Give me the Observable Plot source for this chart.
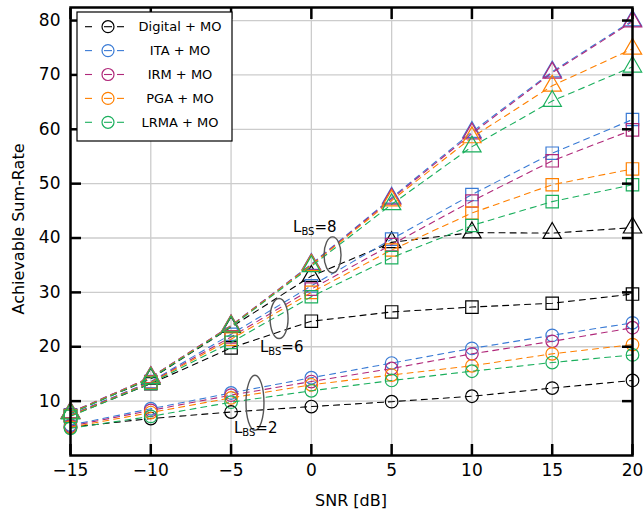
<!DOCTYPE html>
<html><head><meta charset="utf-8">
<script src="https://cdn.jsdelivr.net/npm/d3@7"></script>
<script src="https://cdn.jsdelivr.net/npm/@observablehq/plot@0.6"></script>
<style>body{margin:0;background:#fff;} #chart{width:644px;height:519px;}</style>
</head><body><div id="chart"></div>
<script>
// ---- data ----
const snr = [-15, -10, -5, 0, 5, 10, 15, 20];
const xTicks = [-15, -10, -5, 0, 5, 10, 15, 20];
const yTicks = [10, 20, 30, 40, 50, 60, 70, 80];
const seriesNames = ["Digital + MO", "ITA + MO", "IRM + MO", "PGA + MO", "LRMA + MO"];
const seriesColors = ["#000000", "#3a7bd5", "#b0287a", "#ff8000", "#1aaf5d"];
const antennaGroups = ["2", "6", "8"];
const groupSymbols = ["circle", "square", "triangle"];

// L_BS = 2 (circles)
const digital_L2 = [5.2, 6.8, 8.0, 9.0, 9.9, 10.9, 12.4, 13.8];
const ita_L2     = [5.6, 8.6, 11.5, 14.3, 17.0, 19.7, 22.1, 24.4];
const irm_L2     = [5.4, 8.3, 11.1, 13.6, 16.0, 18.7, 21.0, 23.5];
const pga_L2     = [5.2, 7.9, 10.6, 13.0, 14.8, 16.5, 18.7, 20.4];
const lrma_L2    = [5.0, 7.2, 9.8, 11.9, 13.8, 15.5, 17.1, 18.5];
// L_BS = 6 (squares)
const digital_L6 = [7.3, 13.2, 19.8, 24.7, 26.4, 27.3, 28.0, 29.7];
const ita_L6     = [7.5, 13.6, 22.3, 31.2, 39.8, 48.0, 55.6, 61.8];
const irm_L6     = [7.4, 13.5, 21.8, 30.6, 38.8, 46.8, 54.2, 59.9];
const pga_L6     = [7.3, 13.4, 21.4, 30.0, 37.8, 44.6, 49.8, 52.7];
const lrma_L6    = [7.2, 13.3, 20.8, 29.2, 36.4, 42.3, 46.7, 49.8];
// L_BS = 8 (triangles)
const digital_L8 = [7.8, 14.1, 23.6, 33.0, 39.2, 41.0, 40.9, 41.9];
const ita_L8     = [7.9, 14.4, 23.9, 35.2, 47.4, 59.5, 70.6, 80.0];
const irm_L8     = [7.9, 14.4, 23.9, 35.1, 47.2, 59.2, 70.4, 79.8];
const pga_L8     = [7.8, 14.3, 23.8, 35.0, 46.9, 58.5, 68.0, 74.8];
const lrma_L8    = [7.7, 14.2, 23.7, 34.8, 46.2, 56.8, 65.2, 71.5];

// annotations (data coordinates)
const annotGroups = ["8", "6", "2"];
const annotEllipseX = [1.35, -1.98, -3.48];
const annotEllipseY = [36.8, 25.1, 9.6];
const annotTextX = [-1.11, -3.17, -4.79];
const annotTextY = [41.0, 18.9, 4.0];

// ---- table ----
const valuesByGroup = {
  "2": [digital_L2, ita_L2, irm_L2, pga_L2, lrma_L2],
  "6": [digital_L6, ita_L6, irm_L6, pga_L6, lrma_L6],
  "8": [digital_L8, ita_L8, irm_L8, pga_L8, lrma_L8]
};
const rows = [];
seriesNames.forEach((name, si) => {
  antennaGroups.forEach(g => {
    valuesByGroup[g][si].forEach((v, i) => {
      rows.push({snr: snr[i], rate: v, series: name, group: g, id: name + "|" + g, order: si});
    });
  });
});

const fmt = d => d < 0 ? "\u2212" + Math.abs(d) : String(d);
const dotR = {"2": 6.3, "6": 7.0, "8": 6.8};

const marks = [
  Plot.gridX(xTicks, {stroke: "#cccccc", strokeOpacity: 1, strokeWidth: 1.3}),
  Plot.gridY(yTicks, {stroke: "#cccccc", strokeOpacity: 1, strokeWidth: 1.3})
];
seriesNames.forEach(name => {
  marks.push(Plot.line(rows.filter(d => d.series === name), {x: "snr", y: "rate", z: "id", stroke: "series", strokeWidth: 1.1, strokeDasharray: "6,5"}));
  antennaGroups.forEach(g => {
    marks.push(Plot.dot(rows.filter(d => d.series === name && d.group === g), {x: "snr", y: "rate", stroke: "series", symbol: "group", r: dotR[g], strokeWidth: 1.2}));
  });
});
marks.push(
  Plot.axisX(xTicks, {anchor: "bottom", tickSize: -11, tickPadding: 19, strokeWidth: 2.5, tickFormat: fmt, label: null, fontSize: 17}),
  Plot.axisX(xTicks, {anchor: "top", tickSize: -11, strokeWidth: 2.5, tickFormat: () => "", label: null}),
  Plot.axisY(yTicks, {anchor: "left", tickSize: -11, tickPadding: 21, strokeWidth: 2.5, tickFormat: fmt, label: null, fontSize: 17}),
  Plot.axisY(yTicks, {anchor: "right", tickSize: -11, strokeWidth: 2.5, tickFormat: () => "", label: null}),
  Plot.frame({stroke: "#000", strokeWidth: 2.5})
);

const plot = Plot.plot({
  width: 644, height: 519,
  marginLeft: 70, marginRight: 12, marginTop: 7, marginBottom: 64,
  style: {fontFamily: "DejaVu Sans", fontSize: "17px", background: "#fff", color: "#000"},
  x: {domain: [-15, 20]},
  y: {domain: [0, 82.4]},
  color: {domain: seriesNames, range: seriesColors},
  symbol: {domain: antennaGroups, range: groupSymbols},
  marks
});
document.getElementById("chart").appendChild(plot);

const sx = plot.scale("x"), sy = plot.scale("y");
const svg = d3.select(plot);
const ff = "DejaVu Sans";

// annotations
const ellR = [[8.5, 18], [9, 20], [9, 27.5]];
annotGroups.forEach((g, i) => {
  svg.append("ellipse")
    .attr("cx", sx.apply(annotEllipseX[i])).attr("cy", sy.apply(annotEllipseY[i]))
    .attr("rx", ellR[i][0]).attr("ry", ellR[i][1])
    .attr("fill", "none").attr("stroke", "#555").attr("stroke-width", 1.4);
  const t = svg.append("text")
    .attr("x", sx.apply(annotTextX[i])).attr("y", sy.apply(annotTextY[i]))
    .attr("text-anchor", "start")
    .attr("font-family", ff).attr("font-size", 15).attr("fill", "#000");
  t.append("tspan").text("L");
  t.append("tspan").attr("font-size", 10).attr("dy", 3).text("BS");
  t.append("tspan").attr("dy", -3).text("=" + g);
});

// legend
const lg = svg.append("g");
lg.append("rect").attr("x", 77).attr("y", 12).attr("width", 155).attr("height", 129)
  .attr("fill", "#fff").attr("stroke", "#000").attr("stroke-width", 1.2);
seriesNames.forEach((name, i) => {
  const y = 26.7 + i * 23.9;
  const c = seriesColors[i];
  [[85, 92], [104, 112], [117, 124]].forEach(([a, b]) => {
    lg.append("line").attr("x1", a).attr("x2", b).attr("y1", y).attr("y2", y)
      .attr("stroke", c).attr("stroke-width", 1.1);
  });
  lg.append("circle").attr("cx", 108).attr("cy", y).attr("r", 6)
    .attr("fill", "none").attr("stroke", c).attr("stroke-width", 1.2);
  lg.append("text").attr("x", 180).attr("y", y).attr("text-anchor", "middle")
    .attr("dominant-baseline", "central").attr("font-family", ff).attr("font-size", 13)
    .attr("fill", "#000").text(name);
});

// axis labels
svg.append("text").attr("x", 351).attr("y", 500).attr("text-anchor", "middle")
  .attr("dominant-baseline", "central").attr("font-family", ff).attr("font-size", 16).text("SNR [dB]");
svg.append("text").attr("transform", "translate(18,229) rotate(-90)").attr("text-anchor", "middle")
  .attr("dominant-baseline", "central").attr("font-family", ff).attr("font-size", 16).text("Achievable Sum-Rate");
</script>
</body></html>
